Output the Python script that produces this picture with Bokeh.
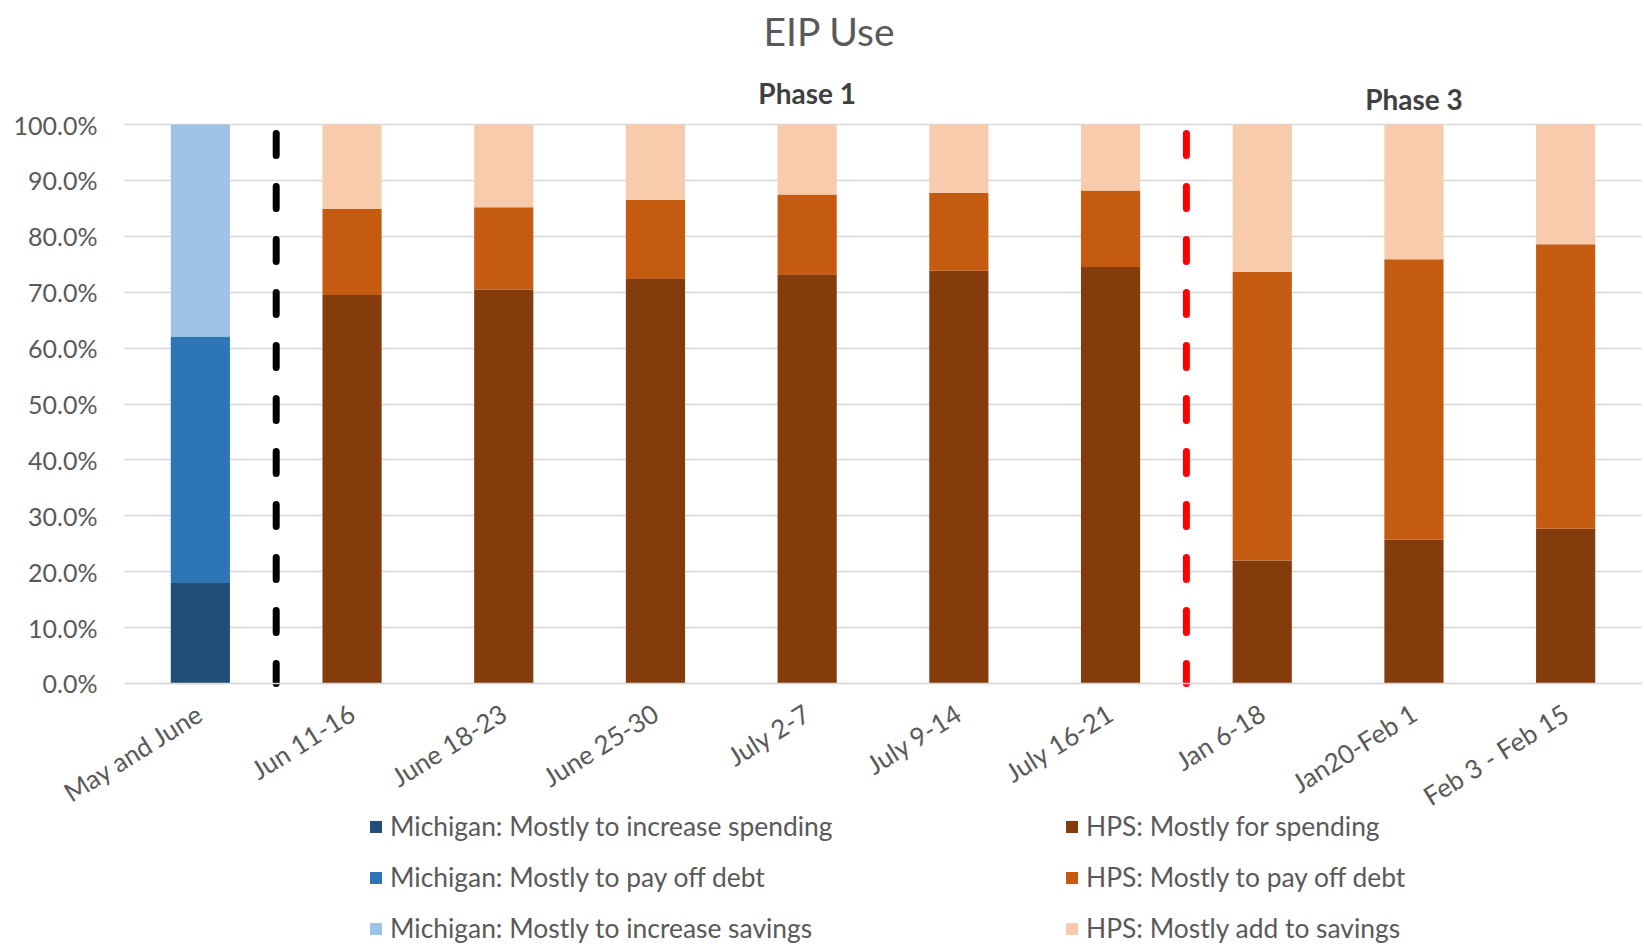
from bokeh.plotting import figure
from bokeh.models import (Range1d, FixedTicker, Label, Legend,
                          LegendItem, CustomJSTickFormatter)
from bokeh.embed import file_html
from bokeh.resources import INLINE

# ---------------- data ----------------
categories = ["May and June", "Jun 11-16", "June 18-23", "June 25-30", "July 2-7",
              "July 9-14", "July 16-21", "Jan 6-18", "Jan20-Feb 1", "Feb 3 - Feb 15"]

mich_categories = ["May and June"]
mich_spending = [18.0]
mich_debt = [44.1]
mich_savings = [37.9]

hps_categories = ["Jun 11-16", "June 18-23", "June 25-30", "July 2-7", "July 9-14",
                  "July 16-21", "Jan 6-18", "Jan20-Feb 1", "Feb 3 - Feb 15"]
hps_spending = [69.5, 70.5, 72.5, 73.2, 73.9, 74.5, 22.0, 25.7, 27.7]
hps_debt = [15.4, 14.7, 14.0, 14.3, 13.9, 13.7, 51.6, 50.2, 50.9]
hps_savings = [15.1, 14.8, 13.5, 12.5, 12.2, 11.8, 26.4, 24.1, 21.4]

mich_labels = ["Michigan: Mostly to increase spending", "Michigan: Mostly to pay off debt",
               "Michigan: Mostly to increase savings"]
hps_labels = ["HPS: Mostly for spending", "HPS: Mostly to pay off debt",
              "HPS: Mostly add to savings"]

y_ticks = [0, 10, 20, 30, 40, 50, 60, 70, 80, 90, 100]

divider_after = ["May and June", "July 16-21"]
divider_colors = ["#000000", "#FF0000"]

phase_labels = ["Phase 1", "Phase 3"]
phase_over = ["July 2-7", "Jan20-Feb 1"]

# ---------------- styling ----------------
FONT = "Lato"
TXT = "#595959"
mich_colors = ["#1F4E79", "#2E75B6", "#9DC3E6"]
hps_colors = ["#843C0C", "#C55A11", "#F8CBAD"]


def slot(c):
    # centre of a category slot on the category scale (slot i spans i..i+1)
    return categories.index(c) + 0.5


n = len(categories)
cat_px = 151.7          # width of one category slot in pixels
left_px = 124           # space left of the first slot (y tick labels)

# The frame covers the whole page so that the legend and the rotated first
# category label are not clipped; both axes are pinned at the data origin.
p = figure(frame_width=1644, frame_height=887, output_backend="svg",
           toolbar_location=None,
           x_range=Range1d(-left_px / cat_px, (1644 - left_px) / cat_px),
           y_range=Range1d(-46.7, 112),
           min_border_left=0, min_border_right=0, min_border_top=57,
           min_border_bottom=0, outline_line_color=None)

p.title.text = "EIP Use"
p.title.text_font = FONT
p.title.text_font_style = "normal"
p.title.text_font_size = "39px"
p.title.text_color = TXT
p.title.align = "left"
p.title.offset = 763
p.title.standoff = 4
p.title.vertical_align = "top"

mich_src = dict(x=[slot(c) for c in mich_categories], s=mich_spending, d=mich_debt,
                v=mich_savings)
hps_src = dict(x=[slot(c) for c in hps_categories], s=hps_spending, d=hps_debt,
               v=hps_savings)

mr = p.vbar_stack(["s", "d", "v"], x="x", width=0.39, color=mich_colors,
                  line_color=None, source=mich_src)
hr = p.vbar_stack(["s", "d", "v"], x="x", width=0.39, color=hps_colors,
                  line_color=None, source=hps_src)

for cat, col in zip(divider_after, divider_colors):
    xpos = categories.index(cat) + 1.0
    p.line(x=[xpos, xpos], y=[98.4, 0], line_color=col, line_width=7,
           line_dash="22 31", line_cap="round")

phase_y = [105.7, 104.6]
for txt, cat, yy in zip(phase_labels, phase_over, phase_y):
    p.add_layout(Label(x=slot(cat), y=yy, text=txt,
                       text_font=FONT, text_font_style="bold", text_font_size="28px",
                       text_color="#404040", text_align="center", text_baseline="middle"))

# axes
p.yaxis.fixed_location = 0
p.yaxis.ticker = FixedTicker(ticks=y_ticks)
p.yaxis.formatter = CustomJSTickFormatter(code="return tick.toFixed(1) + '%';")
p.yaxis.axis_line_color = None
p.yaxis.major_tick_line_color = None
p.yaxis.minor_tick_line_color = None
p.yaxis.major_label_text_font = FONT
p.yaxis.major_label_text_font_size = "25px"
p.yaxis.major_label_text_color = TXT
p.yaxis.major_label_standoff = 21

p.xaxis.fixed_location = 0
p.xaxis.bounds = (0, n)
p.xaxis.ticker = FixedTicker(ticks=[slot(c) for c in categories])
p.xaxis.major_label_overrides = {slot(c): c for c in categories}
p.xaxis.axis_line_color = "#D9D9D9"
p.xaxis.axis_line_width = 1.5
p.xaxis.major_tick_line_color = None
p.xaxis.minor_tick_line_color = None
p.xaxis.major_label_orientation = 0.56
p.xaxis.major_label_text_font = FONT
p.xaxis.major_label_text_font_size = "26px"
p.xaxis.major_label_text_color = TXT
p.xaxis.major_label_standoff = 21

p.xgrid.grid_line_color = None
p.ygrid.grid_line_color = "#D9D9D9"
p.ygrid.grid_line_width = 1.5
try:
    p.ygrid.cross_bounds = (0, n)
except Exception:
    p.ygrid.grid_line_color = None
    p.segment(x0=[0] * len(y_ticks), x1=[n] * len(y_ticks), y0=y_ticks, y1=y_ticks,
              line_color="#D9D9D9", line_width=1.5, level="underlay")

legend_kw = dict(orientation="vertical", glyph_width=15, glyph_height=15,
                 label_standoff=7, label_text_font=FONT, label_text_font_size="26.4px",
                 label_text_color=TXT, label_height=30, spacing=19, padding=0, margin=0,
                 border_line_color=None, background_fill_alpha=0)
leg_left = Legend(items=[LegendItem(label=l, renderers=[r]) for l, r in zip(mich_labels, mr)],
                  location=(368, 0), **legend_kw)
leg_right = Legend(items=[LegendItem(label=l, renderers=[r]) for l, r in zip(hps_labels, hr)],
                   location=(1064, 0), **legend_kw)
p.add_layout(leg_left, "center")
p.add_layout(leg_right, "center")

open("out.html", "w").write(file_html(p, INLINE))
